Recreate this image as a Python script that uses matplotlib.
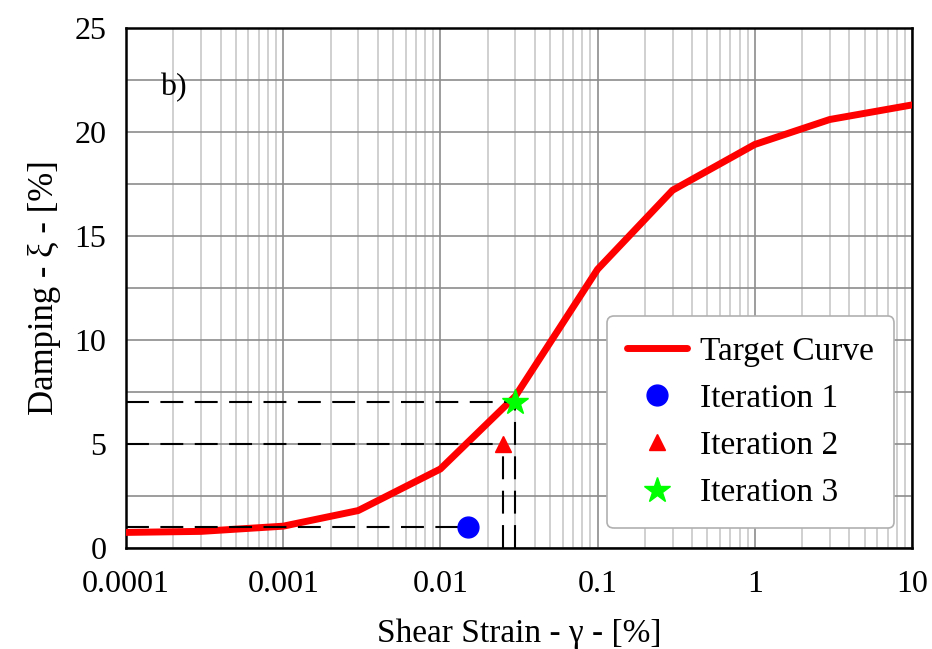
import matplotlib
matplotlib.use("Agg")
import matplotlib.pyplot as plt
from matplotlib.ticker import LogLocator, MultipleLocator, FixedLocator, FixedFormatter

plt.rcParams['font.family'] = ['Liberation Serif', 'DejaVu Serif']

# target damping curve
strain = [0.0001, 0.0003, 0.001, 0.003, 0.01, 0.03, 0.1, 0.3, 1, 3, 10]
damping = [0.75, 0.8, 1.05, 1.8, 3.8, 7.3, 13.4, 17.2, 19.4, 20.6, 21.3]

# iteration results
iter_labels = ["Iteration 1", "Iteration 2", "Iteration 3"]
iter_strain = [0.015, 0.025, 0.03]
iter_damping = [1.0, 5.0, 7.0]
iter_marker = ["o", "^", "*"]
iter_color = ["#0000ff", "#ff0000", "#00ff00"]
iter_size = [15, 12, 19]

xticks = [0.0001, 0.001, 0.01, 0.1, 1, 10]
xticklabels = ["0.0001", "0.001", "0.01", "0.1", "1", "10"]
yticks = [0, 5, 10, 15, 20, 25]

fig = plt.figure(figsize=(9.32, 6.49), dpi=100)
ax = fig.add_axes([0.1352, 0.1556, 0.8433, 0.8013])

ax.set_xscale("log")
ax.set_xlim(0.0001, 10)
ax.set_ylim(0, 25)

ax.xaxis.set_major_locator(FixedLocator(xticks))
ax.xaxis.set_major_formatter(FixedFormatter(xticklabels))
ax.xaxis.set_minor_locator(LogLocator(base=10, subs=range(2, 10), numticks=20))
ax.xaxis.set_minor_formatter(plt.NullFormatter())
ax.yaxis.set_major_locator(FixedLocator(yticks))
ax.yaxis.set_minor_locator(MultipleLocator(2.5))

ax.grid(True, which="major", axis="x", color="#8c8c8c", lw=1.2, zorder=0)
ax.grid(True, which="minor", axis="x", color="#c8c8c8", lw=1.2, zorder=0)
ax.grid(True, which="both", axis="y", color="#8c8c8c", lw=1.2, zorder=0)
ax.tick_params(which="both", length=0, labelsize=23)
ax.tick_params(axis="x", pad=16)
ax.tick_params(axis="y", pad=14)

for s in ax.spines.values():
    s.set_linewidth(1.8)
    s.set_color("black")

ax.plot(strain, damping, color="#ff0000", lw=5, solid_capstyle="round",
        label="Target Curve", zorder=3)

# dashed guide lines
dash = dict(color="black", lw=1.5, ls=(0, (11, 5.5)), zorder=4)
for xs, ys in zip(iter_strain, iter_damping):
    ax.plot([0.0001, xs], [ys, ys], **dash)
for xs, ys in zip(iter_strain[1:], iter_damping[1:]):
    ax.plot([xs, xs], [0, ys], **dash)

for xs, ys, lab, m, c, ms in zip(iter_strain, iter_damping, iter_labels,
                                  iter_marker, iter_color, iter_size):
    ax.plot([xs], [ys], ls="none", marker=m, color=c, ms=ms, label=lab,
            zorder=5, clip_on=False)

ax.text(0.043, 0.885, "b)", transform=ax.transAxes, fontsize=23,
        ha="left", va="center", zorder=6)

ax.set_xlabel("Shear Strain - γ - [%]", fontsize=24, labelpad=14)
ax.set_ylabel("Damping - ξ - [%]", fontsize=25, labelpad=10)

leg = ax.legend(loc="lower right", bbox_to_anchor=(0.9775, 0.038), fontsize=24,
                frameon=True, fancybox=True, framealpha=1, edgecolor="#b0b0b0",
                handlelength=1.8, labelspacing=0.5, borderpad=0.6,
                handletextpad=0.4, borderaxespad=0)
leg.get_frame().set_linewidth(1.2)
leg.set_zorder(10)

fig.savefig("out.png", dpi=100)
